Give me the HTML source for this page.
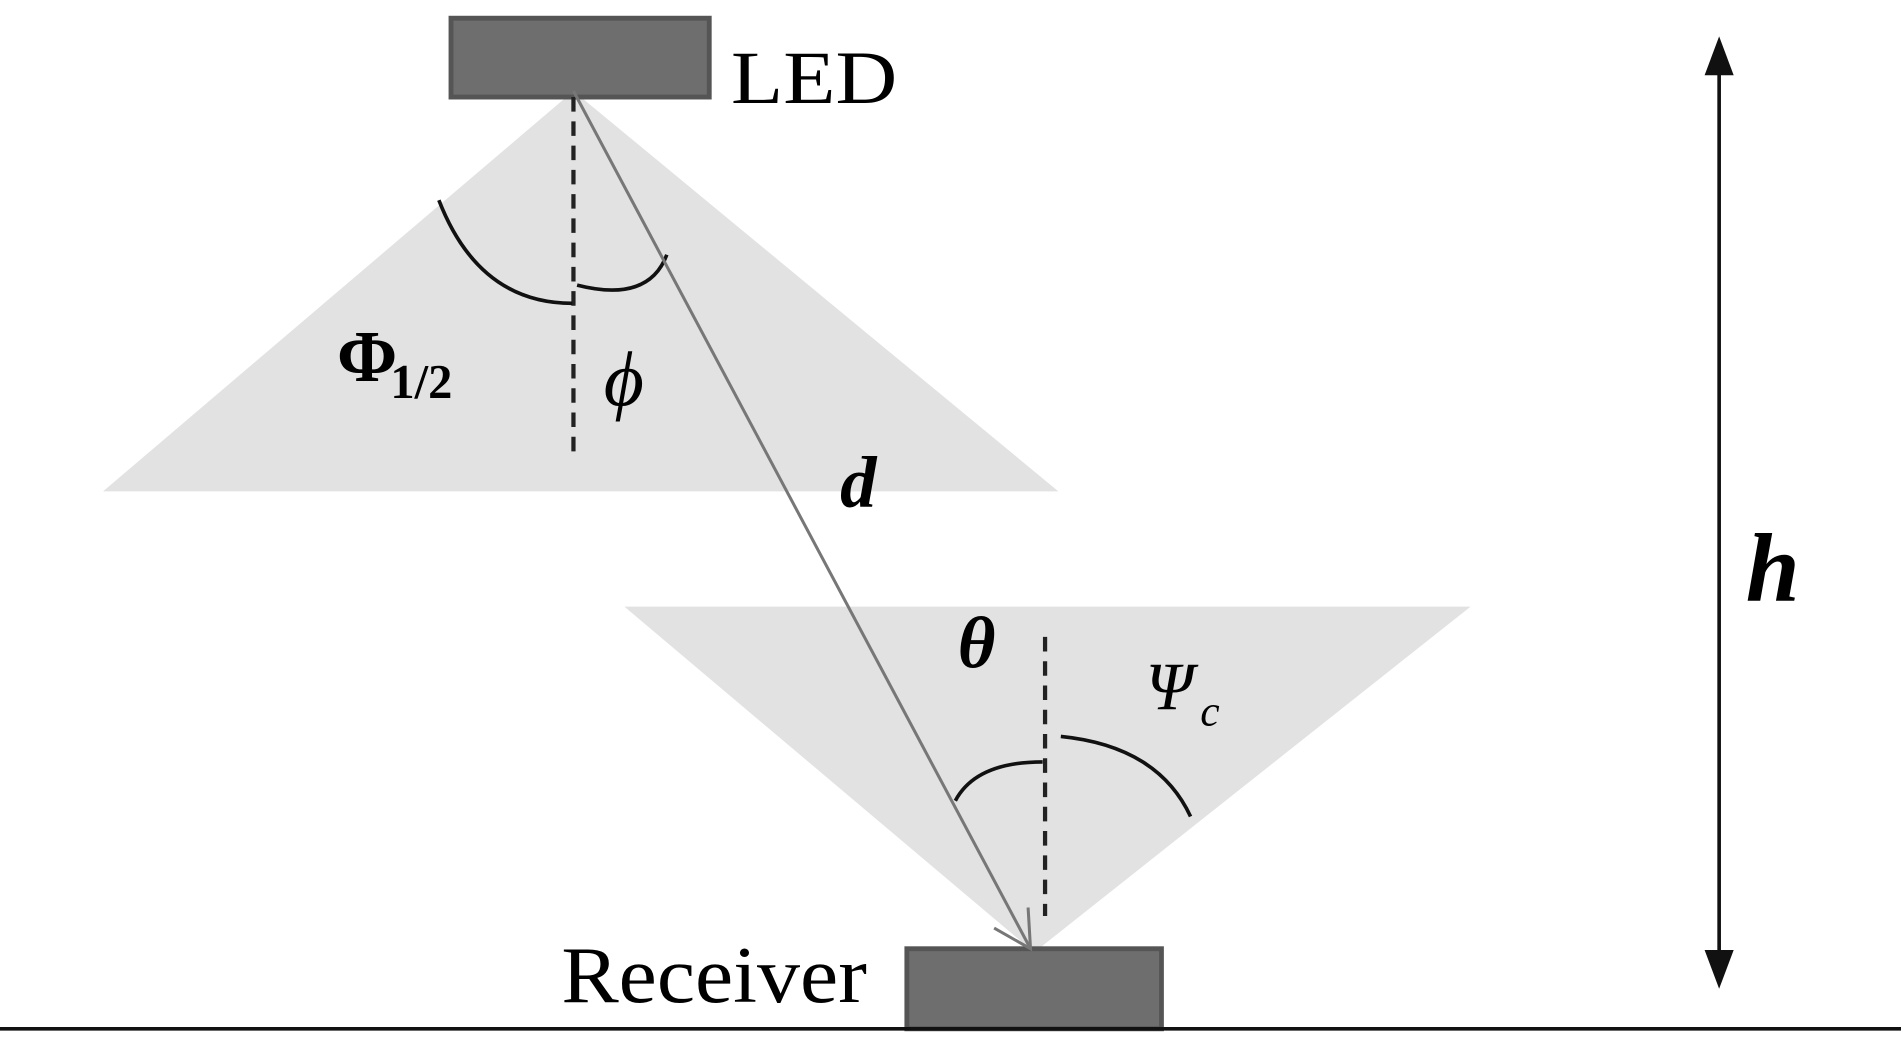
<!DOCTYPE html>
<html><head><meta charset="utf-8"><style>html,body{margin:0;padding:0;background:#fff;overflow:hidden}</style></head>
<body>
<svg width="1901" height="1047" viewBox="0 0 1568 863" preserveAspectRatio="none" xmlns="http://www.w3.org/2000/svg" font-family="Liberation Serif, serif">
<rect width="1568" height="863" fill="#fff"/>
<polygon points="473,75 85,405 873,405" fill="#e2e2e2"/>
<polygon points="515,500 1213,500 853,785" fill="#e2e2e2"/>
<rect x="372" y="15" width="213" height="65" fill="#6e6e6e" stroke="#555" stroke-width="4"/>
<rect x="748" y="782" width="210" height="66" fill="#6e6e6e" stroke="#555" stroke-width="4"/>
<line x1="473" y1="80" x2="473" y2="378" stroke="#222" stroke-width="3.5" stroke-dasharray="12,8"/>
<line x1="862" y1="525" x2="862" y2="755" stroke="#222" stroke-width="3.5" stroke-dasharray="12,8"/>
<path d="M362,165 Q395,250 472,250" fill="none" stroke="#111" stroke-width="3"/>
<path d="M476,235 Q535,250 550,210" fill="none" stroke="#111" stroke-width="3"/>
<path d="M788,660 Q805,628 860,628" fill="none" stroke="#111" stroke-width="3"/>
<path d="M875,607 Q955,615 982,673" fill="none" stroke="#111" stroke-width="3"/>
<line x1="473" y1="75" x2="850" y2="782" stroke="#777" stroke-width="2.5"/>
<path d="M820,765 L850,782 L848,748" fill="none" stroke="#777" stroke-width="2.5"/>
<line x1="1418" y1="50" x2="1418" y2="795" stroke="#111" stroke-width="3"/>
<polygon points="1418,30 1406,62 1430,62" fill="#111"/>
<polygon points="1418,815 1406,783 1430,783" fill="#111"/>
<line x1="0" y1="848" x2="1568" y2="848" stroke="#111" stroke-width="3"/>
<text x="603" y="85" font-size="62" textLength="137" lengthAdjust="spacingAndGlyphs">LED</text>
<text x="463" y="826" font-size="66" textLength="252" lengthAdjust="spacingAndGlyphs">Receiver</text>
<text x="278" y="314" font-size="60" font-weight="bold">Φ</text>
<text x="322" y="328" font-size="40" font-weight="bold">1/2</text>
<text x="498" y="334" font-size="64" font-style="italic">ϕ</text>
<text x="693" y="418" font-size="60" font-weight="bold" font-style="italic">d</text>
<text x="790" y="550" font-size="60" font-weight="bold" font-style="italic">θ</text>
<text x="945" y="585" font-size="56" font-style="italic">Ψ</text>
<text x="990" y="598" font-size="36" font-style="italic">c</text>
<text x="1440" y="495" font-size="80" font-weight="bold" font-style="italic">h</text>
</svg>
</body></html>
